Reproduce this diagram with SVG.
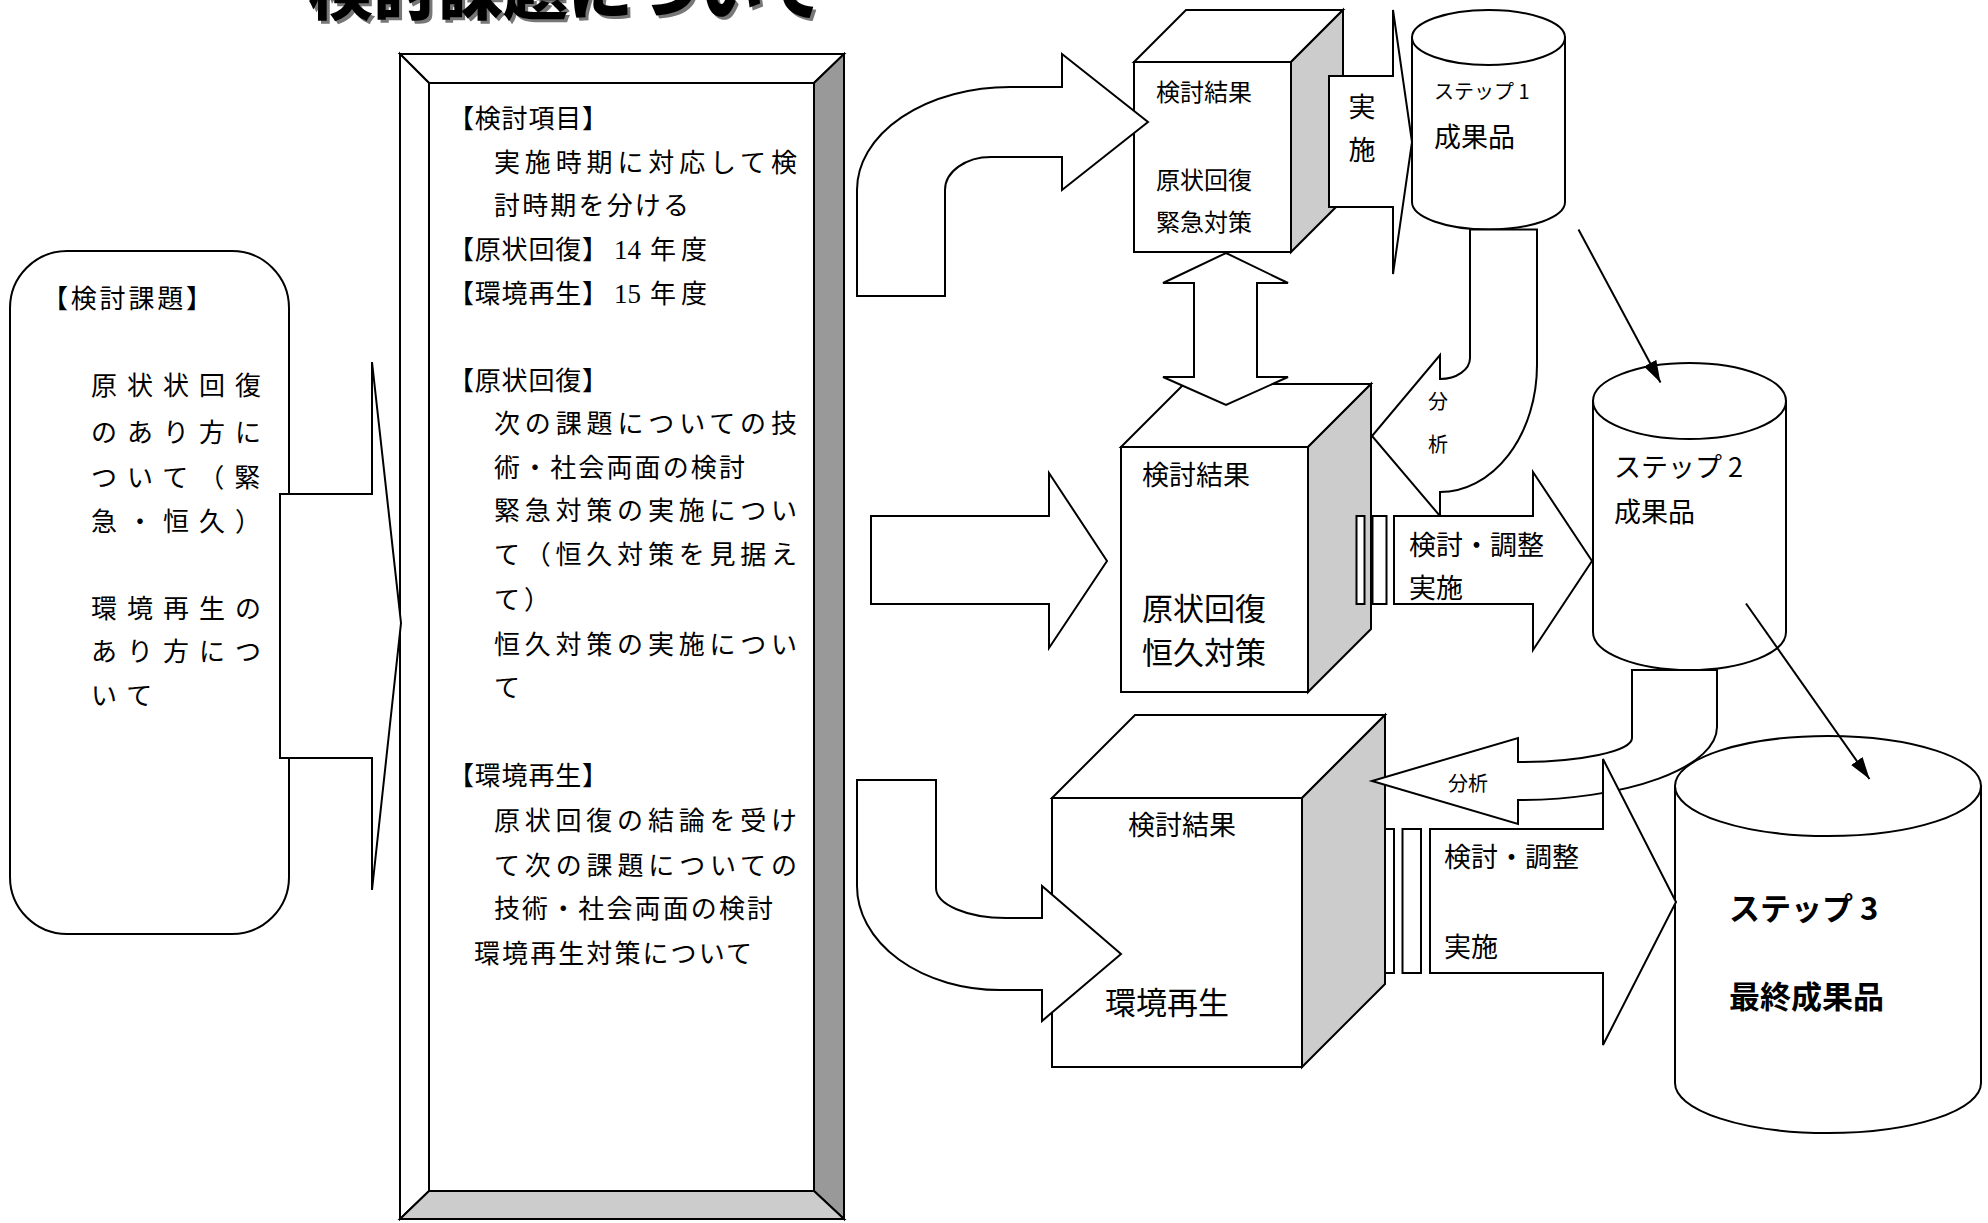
<svg xmlns="http://www.w3.org/2000/svg" width="1988" height="1223" viewBox="0 0 1988 1223">
<style>
.s{stroke:#000;stroke-width:2;fill:#fff;stroke-linejoin:miter}
.g{fill:#ccc}
.d{fill:#999}
.t{font-family:"Noto Sans CJK JP","Noto Sans CJK SC",sans-serif;fill:#000}
.f24{font-size:24px}
.f26{font-size:26px}
.f27{font-size:27px}
.f31{font-size:31px}
.f20{font-size:20px}
.ls{letter-spacing:10px}
.dg{font-family:"Liberation Serif",serif;font-size:27px}
.ln{stroke:#000;stroke-width:2;fill:none}
</style>
<defs>
<marker id="ah" markerUnits="userSpaceOnUse" markerWidth="24" markerHeight="16" refX="22" refY="7" orient="auto"><path d="M0,0 L22,7 L0,14 Z" fill="#000"/></marker>
</defs>
<rect width="1988" height="1223" fill="#fff"/>

<g id="title">
<text class="t" x="311" y="17" font-size="65" font-weight="900" style="fill:#777">検討課題について</text>
<text class="t" x="308" y="14" font-size="65" font-weight="900">検討課題について</text>
</g>

<g id="kadai">
<rect class="s" x="10" y="251" width="279" height="683" rx="57" ry="57"/>
<text class="t f26" x="42" y="308" textLength="170" lengthAdjust="spacing">【検討課題】</text>
<text class="t f26 ls" x="91" y="395">原状状回復</text>
<text class="t f26 ls" x="91" y="442">のあり方に</text>
<text class="t f26 ls" x="91" y="487">ついて（緊</text>
<text class="t f26 ls" x="91" y="531">急・恒久）</text>
<text class="t f26 ls" x="91" y="618">環境再生の</text>
<text class="t f26 ls" x="91" y="661">あり方につ</text>
<text class="t f26 ls" x="91" y="705">いて</text>
</g>

<g id="kentou-koumoku">
<rect class="s" x="429" y="83" width="385" height="1108"/>
<polygon class="s" points="400,54 844,54 814,83 429,83"/>
<polygon class="s" points="400,54 429,83 429,1191 400,1219"/>
<polygon class="s d" points="844,54 844,1219 814,1191 814,83"/>
<polygon class="s g" points="400,1219 429,1191 814,1191 844,1219"/>
<text class="t f26" x="448" y="128" textLength="160" lengthAdjust="spacing">【検討項目】</text>
<text class="t f26" x="494" y="172" textLength="303" lengthAdjust="spacing">実施時期に対応して検</text>
<text class="t f26" x="494" y="215" textLength="195" lengthAdjust="spacing">討時期を分ける</text>
<text class="t f26" x="448" y="259"><tspan textLength="160" lengthAdjust="spacing">【原状回復】</tspan><tspan class="dg" x="614">14</tspan><tspan x="650" textLength="57" lengthAdjust="spacing">年度</tspan></text>
<text class="t f26" x="448" y="303"><tspan textLength="160" lengthAdjust="spacing">【環境再生】</tspan><tspan class="dg" x="614">15</tspan><tspan x="650" textLength="57" lengthAdjust="spacing">年度</tspan></text>
<text class="t f26" x="448" y="390" textLength="160" lengthAdjust="spacing">【原状回復】</text>
<text class="t f26" x="494" y="433" textLength="303" lengthAdjust="spacing">次の課題についての技</text>
<text class="t f26" x="494" y="477" textLength="251" lengthAdjust="spacing">術・社会両面の検討</text>
<text class="t f26" x="494" y="520" textLength="303" lengthAdjust="spacing">緊急対策の実施につい</text>
<text class="t f26" x="494" y="564" textLength="303" lengthAdjust="spacing">て（恒久対策を見据え</text>
<text class="t f26" x="494" y="609" textLength="56" lengthAdjust="spacing">て）</text>
<text class="t f26" x="494" y="654" textLength="303" lengthAdjust="spacing">恒久対策の実施につい</text>
<text class="t f26" x="494" y="697">て</text>
<text class="t f26" x="448" y="785" textLength="160" lengthAdjust="spacing">【環境再生】</text>
<text class="t f26" x="494" y="830" textLength="303" lengthAdjust="spacing">原状回復の結論を受け</text>
<text class="t f26" x="494" y="875" textLength="303" lengthAdjust="spacing">て次の課題についての</text>
<text class="t f26" x="494" y="918" textLength="279" lengthAdjust="spacing">技術・社会両面の検討</text>
<text class="t f26" x="474" y="963" textLength="278" lengthAdjust="spacing">環境再生対策について</text>
</g>

<g id="box1">
<rect class="s" x="1134" y="62" width="157" height="190"/>
<polygon class="s" points="1134,62 1186,10 1343,10 1291,62"/>
<polygon class="s g" points="1291,62 1343,10 1343,200 1291,252"/>
<text class="t" x="1156" y="101" font-size="24">検討結果</text>
<text class="t" x="1156" y="189" font-size="24">原状回復</text>
<text class="t" x="1156" y="231" font-size="24">緊急対策</text>
</g>

<g id="box2">
<rect class="s" x="1121" y="447" width="187" height="245"/>
<polygon class="s" points="1121,447 1184,384 1371,384 1308,447"/>
<polygon class="s g" points="1308,447 1371,384 1371,629 1308,692"/>
<text class="t f27" x="1142" y="485">検討結果</text>
<text class="t f31" x="1142" y="620">原状回復</text>
<text class="t f31" x="1142" y="664">恒久対策</text>
</g>

<g id="box3">
<rect class="s" x="1052" y="798" width="250" height="269"/>
<polygon class="s" points="1052,798 1135,715 1385,715 1302,798"/>
<polygon class="s g" points="1302,798 1385,715 1385,984 1302,1067"/>
<text class="t f27" x="1128" y="835">検討結果</text>
<text class="t f31" x="1105" y="1014">環境再生</text>
</g>

<g id="step1">
<path class="s" d="M1412,37.5 L1412,202 A76.5,27.5 0 0 0 1565,202 L1565,37.5 Z"/>
<ellipse class="s" cx="1488.5" cy="37.5" rx="76.5" ry="27.5"/>
<text class="t f20" x="1434" y="99">ステップ 1</text>
<text class="t f27" x="1434" y="147">成果品</text>
</g>

<g id="step2">
<path class="s" d="M1593,401 L1593,632 A96.5,38 0 0 0 1786,632 L1786,401 Z"/>
<ellipse class="s" cx="1689.5" cy="401" rx="96.5" ry="38"/>
<text class="t f27" x="1614" y="477">ステップ 2</text>
<text class="t f27" x="1614" y="522">成果品</text>
</g>

<g id="step3">
<path class="s" d="M1675,786 L1675,1083 A153,50 0 0 0 1981,1083 L1981,786 Z"/>
<ellipse class="s" cx="1828" cy="786" rx="153" ry="50"/>
<text class="t f31" x="1729" y="920" font-weight="700">ステップ 3</text>
<text class="t f31" x="1729" y="1008" font-weight="700">最終成果品</text>
</g>

<g id="connectors">
<path class="s" d="M280,494 L372,494 L372,362 L401,623 L372,890 L372,758 L280,758 Z"/>
<path class="s" d="M857,296 L857,190 A153,103 0 0 1 1010,87 L1062,87 L1062,54 L1148,122 L1062,190 L1062,157 L991,157 A46,33 0 0 0 945,190 L945,296 Z"/>
<path class="s" d="M871,516 L1049,516 L1049,473 L1107,561 L1049,648 L1049,604 L871,604 Z"/>
<path class="s" d="M857,780 L936,780 L936,888 A70,30 0 0 0 1006,918 L1042,918 L1042,886 L1121,954 L1042,1021 L1042,990 L1000,990 A143,104 0 0 1 857,886 Z"/>
<path class="s" d="M1226,253 L1288,283 L1257,283 L1257,377 L1288,377 L1226,405 L1163,377 L1194,377 L1194,283 L1163,283 Z"/>
<path class="s" d="M1329,76 L1393,76 L1393,10 L1412,142 L1393,274 L1393,207 L1329,207 Z"/>
<path class="s" d="M1470,229.5 L1537,229.5 L1537,365 A97,127 0 0 1 1440,492 L1440,516 L1372,436 L1440,355 L1440,379 A30,21 0 0 0 1470,358 Z"/>
<rect class="s" x="1356.5" y="516" width="8" height="88"/>
<rect class="s" x="1372.5" y="516" width="14" height="88"/>
<path class="s" d="M1394,516 L1533,516 L1533,472 L1592,561 L1533,650 L1533,604 L1394,604 Z"/>
<path class="s" d="M1632,670 L1717,670 L1717,727 A199,73 0 0 1 1518,800 L1518,824 L1372,781 L1518,738 L1518,762 A114,24 0 0 0 1632,738 Z"/>
<rect class="s" x="1385" y="829" width="9" height="144"/>
<rect class="s" x="1402.5" y="829" width="18.5" height="144"/>
<path class="s" d="M1430,829 L1603,829 L1603,759 L1676,902 L1603,1045 L1603,973 L1430,973 Z"/>
<line class="ln" x1="1578.5" y1="229.5" x2="1660.5" y2="382.5" marker-end="url(#ah)"/>
<line class="ln" x1="1746" y1="603.5" x2="1869.5" y2="779" marker-end="url(#ah)"/>
<text class="t f27" x="1362" y="117" text-anchor="middle">実</text>
<text class="t f27" x="1362" y="160" text-anchor="middle">施</text>
<text class="t f20" x="1428" y="409">分</text>
<text class="t f20" x="1428" y="452">析</text>
<text class="t f20" x="1448" y="791">分析</text>
<text class="t f27" x="1409" y="555">検討・調整</text>
<text class="t f27" x="1409" y="598">実施</text>
<text class="t f27" x="1444" y="867">検討・調整</text>
<text class="t f27" x="1444" y="957">実施</text>
</g>
</svg>
